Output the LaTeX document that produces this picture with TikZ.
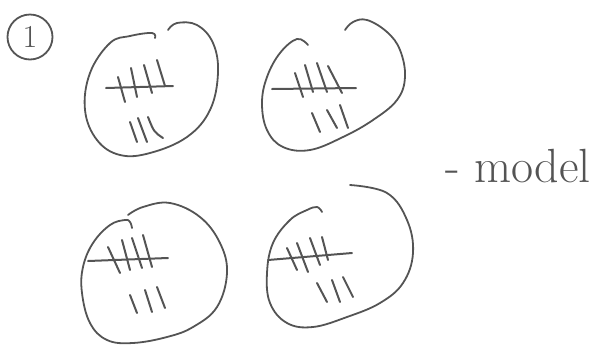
\documentclass[tikz,border=0pt]{standalone}
\usepackage{tikz}
\definecolor{pencilgray}{rgb}{0.33, 0.33, 0.33}
\tikzset{
  pencil/.style={draw=pencilgray, line width=1.8pt, line cap=round, line join=round},
  tallymark/.style={draw=pencilgray, line width=2pt, line cap=round},
}

\begin{document}
\begin{tikzpicture}[x=1pt,y=-1pt]
\useasboundingbox (0,0) rectangle (598,349);
% label top left
\node[circle, draw=pencilgray, line width=1.8pt, minimum size=45pt, inner sep=0pt,
      text=pencilgray, font=\fontsize{32}{32}\selectfont] (num) at (30,37) {1};
% blob top left
\draw[pencil] plot[smooth, tension=0.65] coordinates {
 (155,38) (152,33) (130,36) (110,43) (90,73) (85,110) (97,140) (120,155) (150,153)
 (187,137) (210,110) (218,73) (213,43) (197,25) (177,23) (168,30)};
\draw[tallymark] (106,88) -- (173,86);
\draw[tallymark] (118,77) -- (125,102);
\draw[tallymark] (131,68) -- (137,97);
\draw[tallymark] (144,65) -- (152,93);
\draw[tallymark] (157,60) -- (165,86);
\draw[tallymark] (130,122) -- (137,142);
\draw[tallymark] (138,118) -- (147,142);
\draw[tallymark] (148,117) .. controls (154,132) .. (163,138);
% blob top right
\draw[pencil] plot[smooth, tension=0.65] coordinates {
 (308,45) (297,39) (280,53) (267,77) (262,103) (267,130) (283,147) (310,150)
 (343,137) (373,120) (397,100) (405,77) (400,50) (387,32) (367,20) (353,22) (345,30)};
\draw[tallymark] (272,89) -- (356,88);
\draw[tallymark] (295,73) -- (303,97);
\draw[tallymark] (305,65) -- (313,92);
\draw[tallymark] (317,63) -- (327,92);
\draw[tallymark] (328,66) -- (342,93);
\draw[tallymark] (312,113) -- (320,132);
\draw[tallymark] (327,110) -- (337,128);
\draw[tallymark] (340,105) -- (348,128);
% blob bottom left
\draw[pencil] plot[smooth, tension=0.65] coordinates {
 (128,215) (143,207) (170,203) (200,217) (220,243) (227,273) (217,307) (193,327)
 (167,337) (133,343) (107,340) (90,323) (82,293) (83,267) (93,243) (110,225)
 (125,220) (130,222) (132,228)};
\draw[tallymark] (88,261) -- (168,258);
\draw[tallymark] (108,247) -- (120,273);
\draw[tallymark] (122,240) -- (130,270);
\draw[tallymark] (132,238) -- (142,268);
\draw[tallymark] (143,235) -- (152,267);
\draw[tallymark] (130,295) -- (137,313);
\draw[tallymark] (145,290) -- (152,312);
\draw[tallymark] (157,287) -- (165,308);
% blob bottom right
\draw[pencil] plot[smooth, tension=0.65] coordinates {
 (350,185) (387,193) (407,220) (413,253) (403,283) (380,303) (347,317) (313,327)
 (287,323) (270,303) (267,273) (273,243) (290,220) (307,210) (317,207) (322,212)};
\draw[tallymark] (268,260) -- (352,253);
\draw[tallymark] (287,248) -- (297,270);
\draw[tallymark] (297,243) -- (308,272);
\draw[tallymark] (310,238) -- (320,265);
\draw[tallymark] (322,237) -- (328,260);
\draw[tallymark] (317,283) -- (327,302);
\draw[tallymark] (332,280) -- (340,302);
\draw[tallymark] (343,277) -- (353,297);
% side note
\node[anchor=base west, inner sep=0pt, text=pencilgray,
      font=\fontsize{48}{48}\selectfont] (model) at (445,182) {- model};
\end{tikzpicture}
\end{document}
